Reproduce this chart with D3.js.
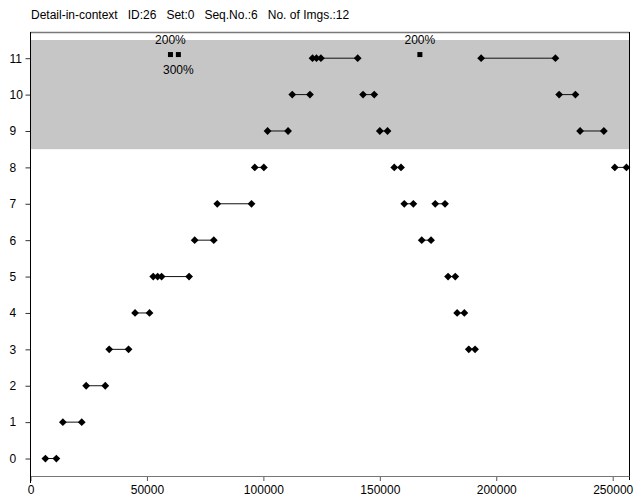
<!DOCTYPE html>
<html>
<head>
<meta charset="utf-8">
<script src="https://cdn.jsdelivr.net/npm/d3@7/dist/d3.min.js"></script>
<style>
  body { margin: 0; background: #fff; }
  text { font-family: "Liberation Sans", Arial, sans-serif; fill: #000; }
</style>
</head>
<body>
<script>
// chart data: one entry per connected run of points
var segRows = [0, 1, 2, 3, 3, 4, 4, 5, 5, 6, 6, 7, 7, 7, 8, 8, 8, 9, 9, 9, 10, 10, 10, 11, 11];
var segValues = [
  [6400, 11100],
  [13900, 22000],
  [23900, 32100],
  [33800, 42100], [188200, 190900],
  [44900, 51100], [183200, 186300],
  [52700, 54600, 56300, 68100], [179300, 182400],
  [70500, 78700], [168000, 172000],
  [80200, 94900], [160500, 164400], [173800, 178000],
  [96300, 100200], [156200, 159100], [250900, 255900],
  [101800, 110600], [150000, 153300], [236000, 246200],
  [112400, 120000], [142800, 147600], [227000, 234000],
  [121100, 122800, 124700, 140500], [193500, 225400]
];

// zoom markers
var zoomX = [60100, 63500, 167200];
var zoomLabels = ["200%", "300%", "200%"];
var zoomLabelPos = ["above", "below", "above"];
var zoomRow = 11.1;

var bandRange = [8.5, 11.5];
var yTicks = d3.range(0, 12);
var xTicks = [0, 50000, 100000, 150000, 200000, 250000];
var titleParts = ["Detail-in-context", "ID:26", "Set:0", "Seq.No.:6", "No. of Imgs.:12"];

var W = 635, H = 500;
var svg = d3.select("body").append("svg").attr("width", W).attr("height", H);

var x = d3.scaleLinear().domain([0, 257000]).range([30.5, 629]);
var y = d3.scaleLinear().domain([-0.48, 11.72]).range([476, 32]);

// grey band
svg.append("rect")
  .attr("x", x(0)).attr("width", x.range()[1] - x(0))
  .attr("y", y(bandRange[1])).attr("height", y(bandRange[0]) - y(bandRange[1]))
  .attr("fill", "#c6c6c6");

// frame
svg.append("line").attr("x1", x(0)).attr("x2", 629.5).attr("y1", 32.5).attr("y2", 32.5)
  .attr("stroke", "#7a7a7a").attr("stroke-width", 1.5);
svg.append("line").attr("x1", 629.5).attr("x2", 629.5).attr("y1", 32).attr("y2", 480)
  .attr("stroke", "#000");

// title, words spaced out like the original
svg.append("text").attr("x", 31).attr("y", 19).style("font-size", "12px")
  .style("white-space", "pre").text(titleParts.join("   "));

// x axis
var xAxis = svg.append("g").attr("transform", "translate(0,476)")
  .call(d3.axisBottom(x).tickValues(xTicks).tickSize(5).tickPadding(4).tickFormat(d3.format("d")));
xAxis.select(".domain").remove();
xAxis.selectAll(".tick line").attr("stroke", "#555");
xAxis.selectAll("text").style("font-size", "12px").attr("fill", "#000");
svg.append("line").attr("x1", x(0)).attr("x2", 629.5).attr("y1", 476.5).attr("y2", 476.5)
  .attr("stroke", "#777");

// y axis
var yAxis = svg.append("g").attr("transform", "translate(30.5,0)")
  .call(d3.axisLeft(y).tickValues(yTicks).tickSize(5));
yAxis.select(".domain").remove();
yAxis.selectAll(".tick line").attr("stroke", "#333");
yAxis.selectAll("text").style("font-size", "12px").attr("fill", "#000")
  .attr("x", -21).attr("text-anchor", "start");
svg.append("line").attr("x1", 30.5).attr("x2", 30.5).attr("y1", 32).attr("y2", 483)
  .attr("stroke", "#000");

// connecting lines
var line = d3.line().x(function(d) { return x(d.v); }).y(function(d) { return y(d.r); });
var segs = segValues.map(function(vals, i) {
  return vals.map(function(v) { return {v: v, r: segRows[i]}; });
});
svg.selectAll("path.seg").data(segs).enter().append("path")
  .attr("class", "seg")
  .attr("d", line)
  .attr("fill", "none")
  .attr("stroke", "#111")
  .attr("stroke-width", 1);

// diamonds
var pts = [].concat.apply([], segs);
svg.selectAll("path.dot").data(pts).enter().append("path")
  .attr("class", "dot")
  .attr("transform", function(d) { return "translate(" + x(d.v) + "," + y(d.r) + ")"; })
  .attr("d", "M0,-3.9L3.9,0L0,3.9L-3.9,0Z")
  .attr("fill", "#000");

// zoom markers
zoomX.forEach(function(v, i) {
  svg.append("rect")
    .attr("x", x(v) - 2.5).attr("y", y(zoomRow) - 2.5)
    .attr("width", 5).attr("height", 5).attr("fill", "#000");
  svg.append("text")
    .attr("x", x(v)).attr("y", zoomLabelPos[i] === "above" ? y(zoomRow) - 11 : y(zoomRow) + 19)
    .attr("text-anchor", "middle").style("font-size", "12px")
    .text(zoomLabels[i]);
});
</script>
</body>
</html>
